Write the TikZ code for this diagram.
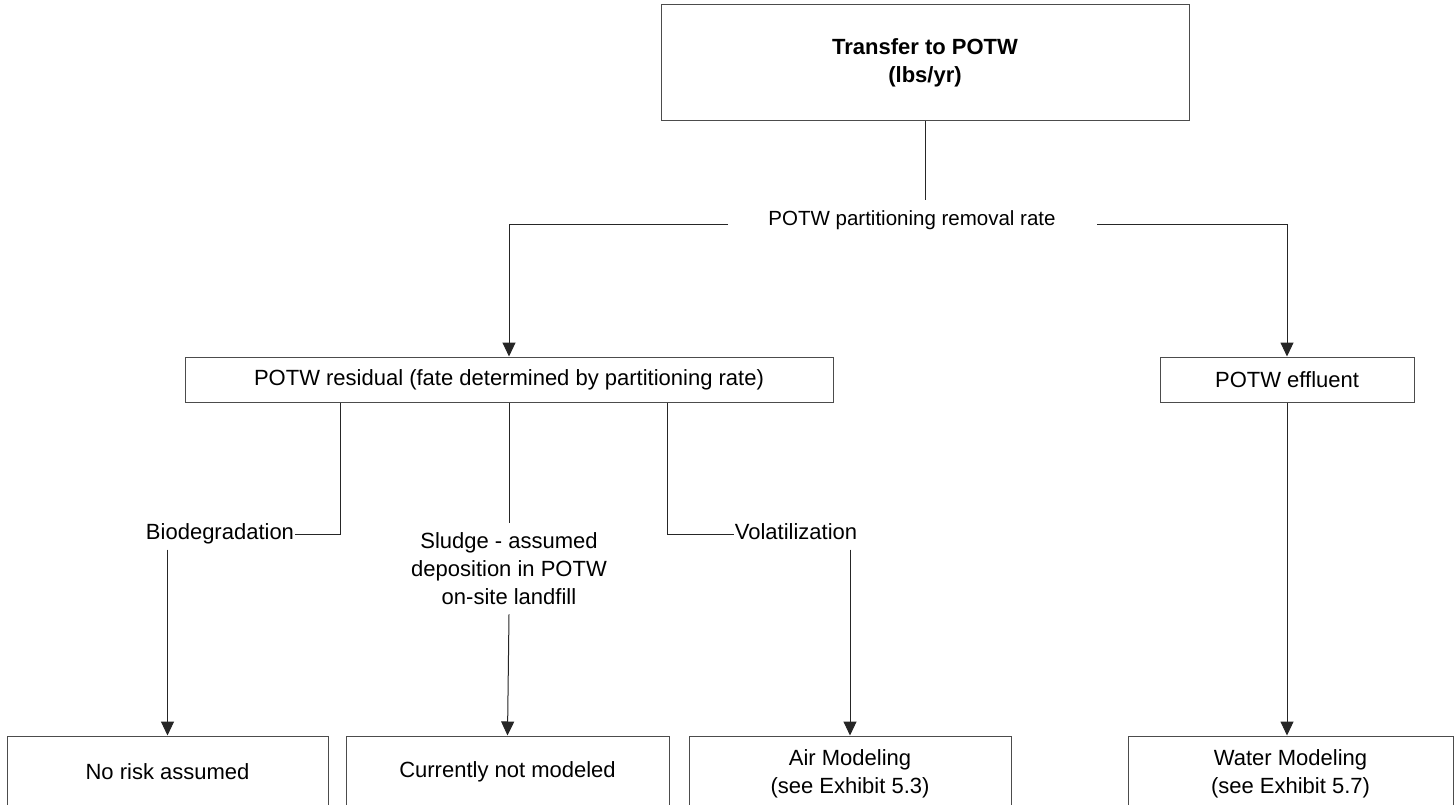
\documentclass[tikz,border=0pt]{standalone}
\usepackage{fontspec}
\setmainfont{Liberation Sans}
\usetikzlibrary{arrows.meta,calc}
\tikzset{
  box/.style={draw=black!70, line width=1pt, fill=white, align=center, inner sep=0pt, font=\fontsize{22}{28}\selectfont},
  txt/.style={align=center, inner xsep=1pt, inner ysep=9.5pt, font=\fontsize{22}{28}\selectfont},
  side/.style={inner xsep=1pt, inner ysep=5pt, text height=16pt, text depth=5pt, font=\fontsize{22}{28}\selectfont},
  conn/.style={draw=black!85, line width=1pt},
  arr/.style={conn, -{Triangle[width=13pt,length=14pt]}},
}
\begin{document}
\begin{tikzpicture}[x=1pt,y=-1pt]
\useasboundingbox (0,0) rectangle (1455,805);
\clip (0,0) rectangle (1455,805);
\fill[white] (0,0) rectangle (1455,805);
% top box
\node[box, minimum width=528pt, minimum height=116pt, font=\bfseries\fontsize{22}{28}\selectfont] (top) at (925,63) {Transfer to POTW\\(lbs/yr)};
\coordinate (c1) at (925,200);
\draw[conn] (top) -- (c1);
\node[anchor=base, inner sep=2pt, font=\fontsize{20.5}{26}\selectfont] (part) at (912,225) {POTW partitioning removal rate};
\coordinate (pl) at (728,224);
\coordinate (pr) at (1097,224);
% second row
\node[box, minimum width=648pt, minimum height=45pt] (res) at (509,379.5) {POTW residual (fate determined by partitioning rate)};
\node[box, minimum width=254pt, minimum height=45pt] (eff) at (1287,379.5) {POTW effluent};
\draw[arr] (pl) -| (res.north);
\draw[arr] (pr) -| (eff.north);
% labels
\node[side] (bio) at (220,534) {Biodegradation};
\node[txt] (sl) at (509,568.5) {Sludge - assumed\\deposition in POTW\\on-site landfill};
\node[side] (vol) at (796,534) {Volatilization};
\draw[conn] ([xshift=-169pt]res.south) |- (bio.east);
\draw[conn] ([xshift=158pt]res.south) |- (vol.west);
\draw[conn] (res.south) -- (sl.north);
% bottom boxes
\node[box, minimum width=321pt, minimum height=72pt] (b1) at (167.5,772) {No risk assumed};
\node[box, minimum width=323pt, minimum height=72pt] (b2) at (507.5,772) {Currently not modeled};
\node[box, minimum width=322pt, minimum height=76pt] (b3) at (850,774) {Air Modeling\\(see Exhibit 5.3)};
\node[box, minimum width=325pt, minimum height=76pt] (b4) at (1290.5,774) {Water Modeling\\(see Exhibit 5.7)};
\draw[arr] (bio.south -| b1.north) -- (b1.north);
\draw[arr] (sl.south) -- (b2.north);
\draw[arr] (vol.south -| b3.north) -- (b3.north);
\draw[arr] (eff.south) -- (eff.south |- b4.north);
\end{tikzpicture}
\end{document}
